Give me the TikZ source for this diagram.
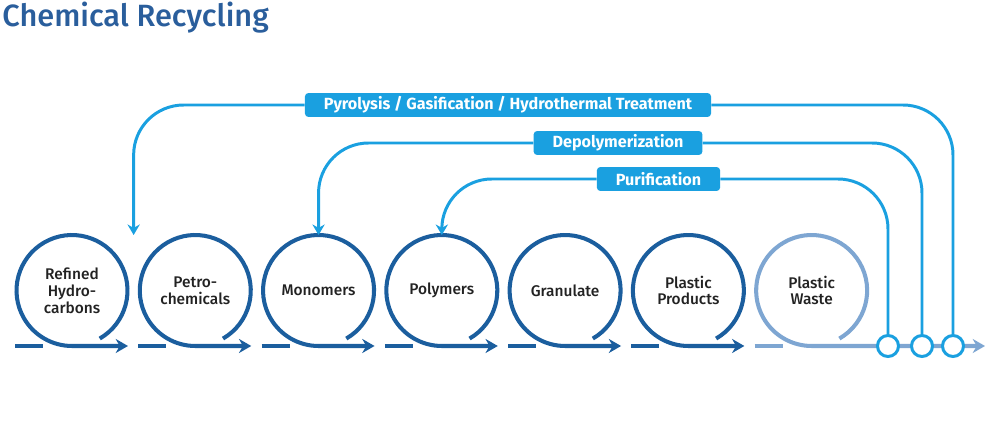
\documentclass[tikz,border=0pt]{standalone}
\usepackage{fontspec}
\setmainfont{Fira Sans}
\newfontfamily\medfont{Fira Sans Medium}
\usetikzlibrary{arrows.meta,positioning,calc}
\definecolor{ctA}{HTML}{1B5E9E}
\definecolor{ctW}{HTML}{7EA6D2}
\definecolor{ctC}{HTML}{1AA0E0}
\definecolor{ctT}{HTML}{2A5E9C}
\definecolor{ctTxt}{HTML}{222222}

\begin{document}
\begin{tikzpicture}[x=0.02cm,y=0.02cm,
  stage/.style={circle,minimum size=2.22cm,inner sep=0pt,outer sep=0pt,align=center,
    font=\medfont\fontsize{8.8}{9.6}\selectfont,text=ctTxt},
  ring/.style={line width=2.3pt,draw=ctA},
  flow/.style={ring,-{Stealth[length=7pt,width=8pt]}},
  proc/.style={fill=ctC,text=white,font=\bfseries\fontsize{9.2}{10}\selectfont,
    rounded corners=2pt,inner xsep=0.38cm,inner ysep=0pt,minimum height=0.48cm},
  arr/.style={line width=1.7pt,draw=ctC,rounded corners=1cm},
  junc/.style={circle,draw=ctC,fill=white,line width=1.7pt,minimum size=0.42cm,inner sep=0pt},
  node distance=0.246cm]
  \useasboundingbox (0,0) rectangle (992,420);
  \node[anchor=base west,inner sep=0pt,text=ctT,font=\medfont\fontsize{17.5}{20}\selectfont] (title) at (2,393) {Chemical Recycling};
  % the chain of stages
  \node[stage] (c1) at (72,129.5) {Refined\\Hydro-\\carbons};
  \node[stage,right=of c1] (c2) {Petro-\\chemicals};
  \node[stage,right=of c2] (c3) {Monomers};
  \node[stage,right=of c3] (c4) {Polymers};
  \node[stage,right=of c4] (c5) {Granulate};
  \node[stage,right=of c5] (c6) {Plastic\\Products};
  \node[stage,right=of c6] (c7) {Plastic\\Waste};
  \foreach \n in {1,...,6} {
    \draw[ring] ($(c\n.south)+(-57,0)$) -- ++(28,0);
    \draw[flow] (c\n.-60) arc[start angle=-60,end angle=270,radius=1.11cm] -- ++(56,0);
  }
  \coordinate (wend) at (985,74);
  \draw[ring,draw=ctW] ($(c7.south)+(-57,0)$) -- ++(28,0);
  \draw[flow,draw=ctW] (c7.-60) arc[start angle=-60,end angle=270,radius=1.11cm] -- (wend);
  % recycling routes
  \node[junc] (j1) at (888,74) {};
  \node[junc] (j2) at (922,74) {};
  \node[junc] (j3) at (953,74) {};
  \node[proc] (pyr) at (508,315) {Pyrolysis / Gasification / Hydrothermal Treatment};
  \node[proc] (dep) at (618,277) {Depolymerization};
  \node[proc] (pur) at (658.5,241) {Purification};
  \coordinate (gap) at ($(c1.north)!0.5!(c2.north)$);
  \draw[arr] (j3.north) |- (pyr.east);
  \draw[arr] (j2.north) |- (dep.east);
  \draw[arr] (j1.north) |- (pur.east);
  \draw[arr,-{Stealth[length=6pt,width=7pt]}] (pyr.west) -| (gap);
  \draw[arr,-{Stealth[length=6pt,width=7pt]}] (dep.west) -| (c3.north);
  \draw[arr,-{Stealth[length=6pt,width=7pt]}] (pur.west) -| (c4.north);
\end{tikzpicture}
\end{document}
